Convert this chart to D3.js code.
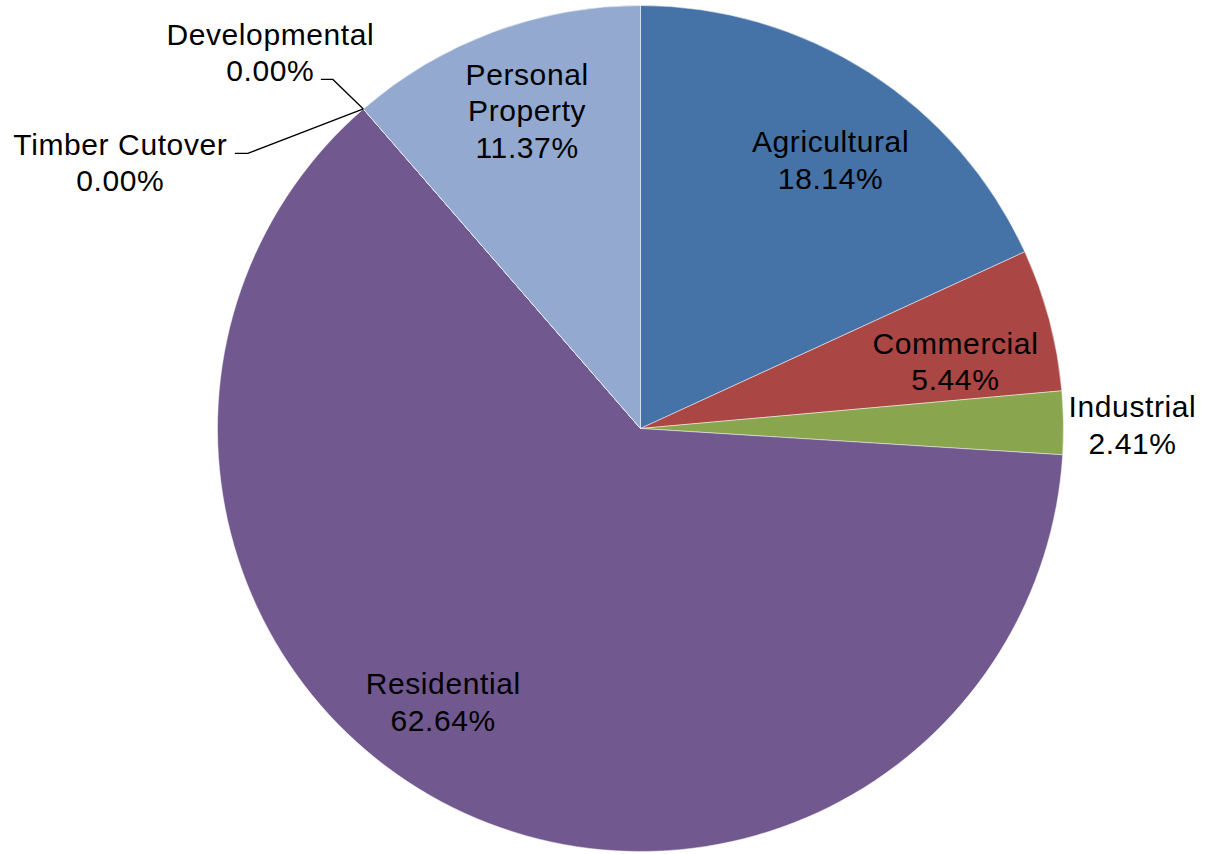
<!DOCTYPE html>
<html>
<head>
<meta charset="utf-8">
<script src="https://cdn.jsdelivr.net/npm/d3@7"></script>
<style>
  html, body { margin: 0; padding: 0; background: #fff; }
  svg text { font-family: "Liberation Sans", Arial, sans-serif; font-size: 30px; fill: #000; letter-spacing: 0.6px; }
</style>
</head>
<body>
<svg id="chart" width="1205" height="854"></svg>
<script>
// data, clockwise from 12 o'clock
var categories = ["Agricultural", "Commercial", "Industrial", "Residential", "Timber Cutover", "Developmental", "Personal Property"];
var shares = [18.14, 5.44, 2.41, 62.64, 0.00, 0.00, 11.37];
var sliceColors = ["#4572A7", "#AA4643", "#89A54E", "#71588F", "#4198AF", "#DB843D", "#93A9CF"];

// layout
var cx = 640.5, cy = 428.5, radius = 423;
var labelRadius = 330;
var lineHeight = 36.5;

// label nudges from the label-arc centroid (first baseline, text centred)
var nudge = {
  "Agricultural": [12, 1.5],
  "Commercial": [-4, 10],
  "Industrial": [162, -7],
  "Residential": [-51, -30],
  "Personal Property": [2, -34.5]
};
// zero slices get leader lines: elbow offset from the rim point, then a short tail
var leaders = {
  "Timber Cutover": { elbow: [-115.5, 44.5], tail: -13, textDx: -114.5, textDy: 1.5, lineOfLeader: 0 },
  "Developmental": { elbow: [-30.5, -29.5], tail: -12, textDx: -50.5, textDy: 2, lineOfLeader: 1 }
};
var wrapped = { "Personal Property": ["Personal", "Property"] };

var data = categories.map(function(c, i) { return { name: c, value: shares[i] }; });
var fmt = d3.format(".2f");
var color = d3.scaleOrdinal().domain(categories).range(sliceColors);

var svg = d3.select("#chart");
var g = svg.append("g").attr("transform", "translate(" + cx + "," + cy + ")");

var pie = d3.pie().value(function(d) { return d.value; }).sort(null);
var arc = d3.arc().innerRadius(0).outerRadius(radius);
var labelArc = d3.arc().innerRadius(labelRadius).outerRadius(labelRadius);

var arcs = pie(data);

g.selectAll("path.slice")
  .data(arcs)
  .enter()
  .append("path")
  .attr("class", "slice")
  .attr("d", arc)
  .attr("fill", function(d) { return color(d.data.name); })
  .attr("stroke", "rgba(255,255,255,0.6)")
  .attr("stroke-width", 0.8);

function lines(d) {
  var name = wrapped[d.data.name] || [d.data.name];
  return name.concat([fmt(d.data.value) + "%"]);
}

arcs.forEach(function(d) {
  var name = d.data.name;
  var ls = lines(d);
  var x, y;
  if (leaders[name]) {
    var L = leaders[name];
    var a = d.startAngle;
    var rim = [radius * Math.sin(a), -radius * Math.cos(a)];
    var elbow = [rim[0] + L.elbow[0], rim[1] + L.elbow[1]];
    var end = [elbow[0] + L.tail, elbow[1]];
    g.append("path")
      .attr("d", d3.line()([rim, elbow, end]))
      .attr("fill", "none")
      .attr("stroke", "#000")
      .attr("stroke-width", 1.3);
    x = end[0] + L.textDx;
    y = end[1] + L.textDy - L.lineOfLeader * lineHeight;
  } else {
    var c = labelArc.centroid(d);
    var n = nudge[name] || [0, 0];
    x = c[0] + n[0];
    y = c[1] + n[1];
  }
  var t = g.append("text").attr("text-anchor", "middle");
  ls.forEach(function(s, i) {
    t.append("tspan").attr("x", x).attr("y", y + i * lineHeight).text(s);
  });
});
</script>
</body>
</html>
